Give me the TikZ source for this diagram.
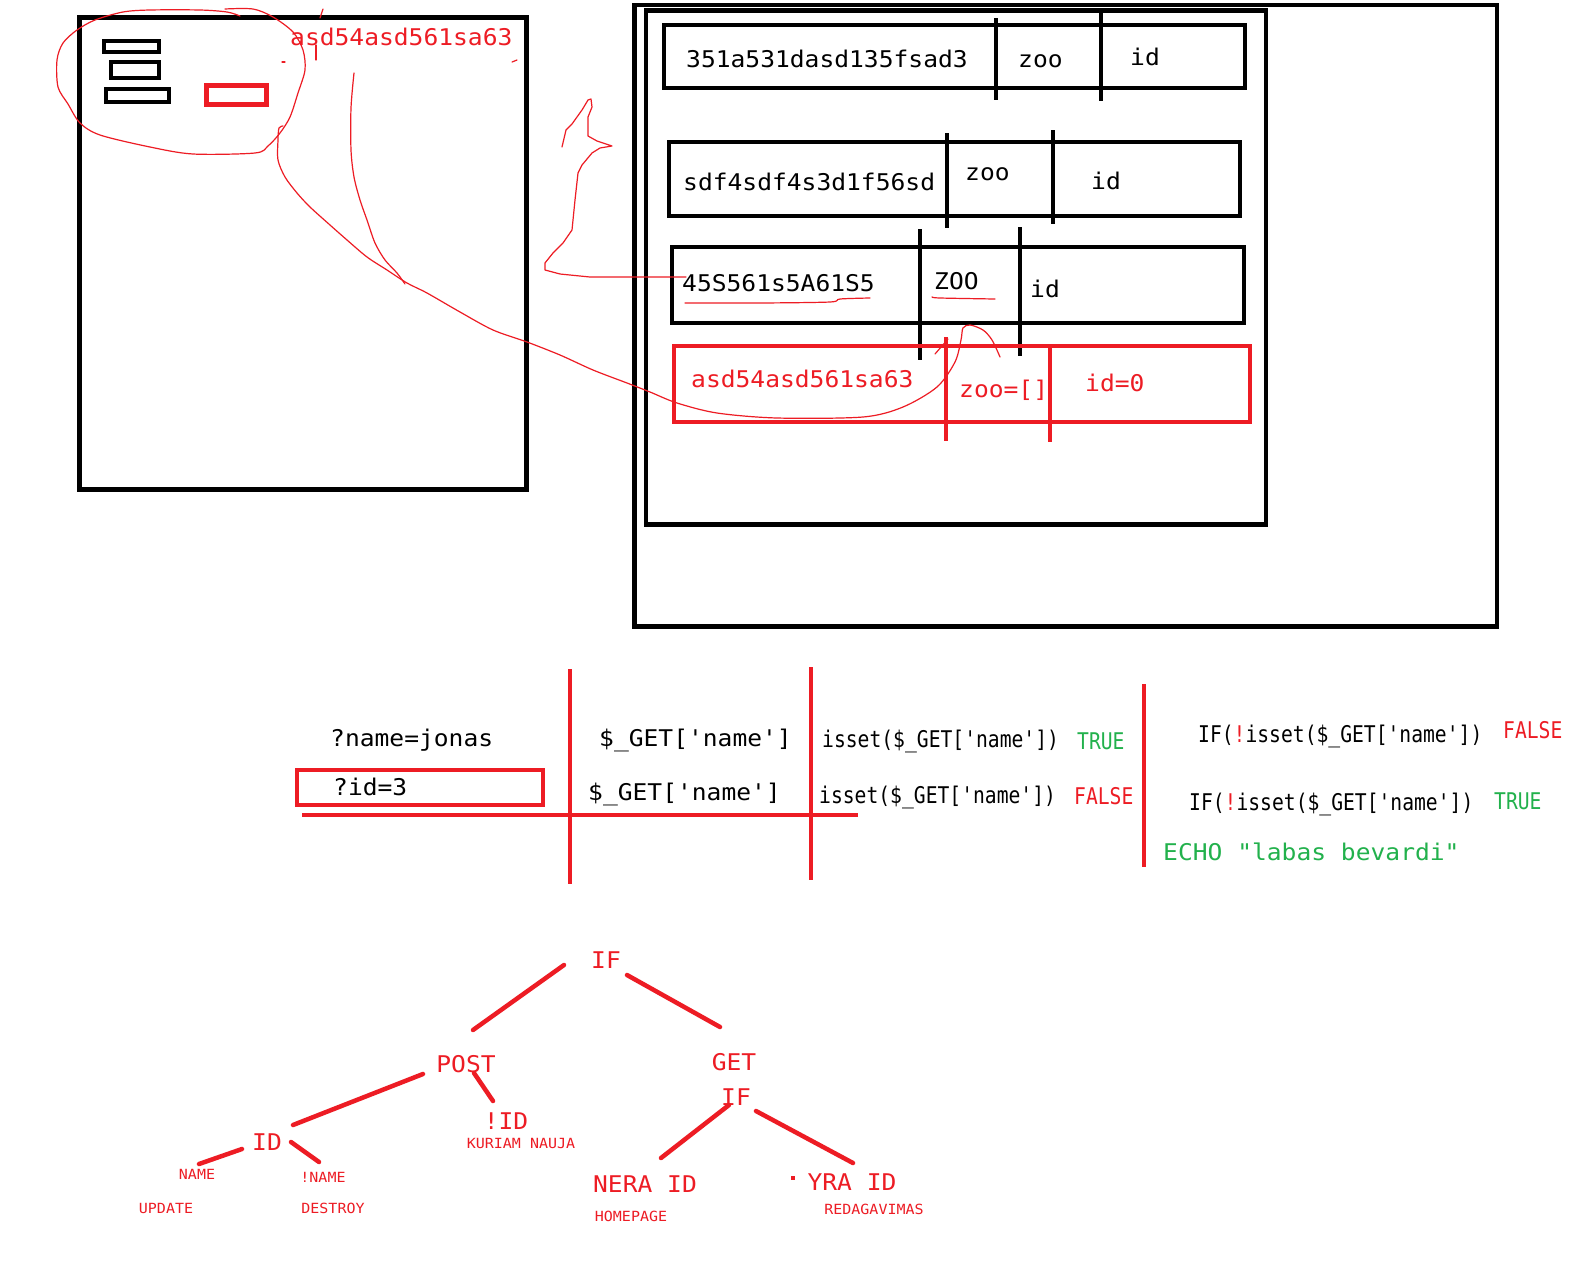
\documentclass[tikz,border=0pt]{standalone}
\usepackage{fontspec}
\usetikzlibrary{calc}
\newfontfamily\consfont[Ligatures=TeXOff,FakeStretch=1.07]{DejaVu Sans Mono}
\newfontfamily\slimfont[Ligatures=TeXOff,FakeStretch=0.855]{DejaVu Sans Mono}
\definecolor{paintred}{HTML}{ED1C24}
\definecolor{paintgreen}{HTML}{22B14C}

\begin{document}
\begin{tikzpicture}[x=1pt,y=-1pt,
    box/.style={draw=black,line width=4.5pt},
    redbox/.style={draw=paintred,line width=4.5pt},
    scribble/.style={draw=paintred,line width=1.2pt,line cap=round,line join=round},
    branch/.style={draw=paintred,line width=4.5pt,line cap=round},
    code/.style={inner sep=0pt,anchor=base west,font=\consfont\fontsize{23}{27}\selectfont},
    slim/.style={inner sep=0pt,anchor=base west,font=\slimfont\fontsize{23}{27}\selectfont},
    leaf/.style={inner sep=0pt,anchor=base,text=paintred,font=\consfont\fontsize{23}{27}\selectfont},
    tag/.style={inner sep=0pt,anchor=base,text=paintred,font=\consfont\fontsize{14}{17}\selectfont}]
    \fill[white] (0,0) rectangle (1574,1280);

    % page sketch on the left
    \draw[box] (79.5,17.5) rectangle (526.5,489.5);
    \draw[box] (104,41) rectangle (159,52);
    \draw[box] (111,62) rectangle (159,78);
    \draw[box] (106,89) rectangle (169,102);
    \draw[redbox,line width=5pt] (206.5,85.5) rectangle (266.5,104.5);
    \node[code,text=paintred] (pagekey) at (290,45) {asd54asd561sa63};

    % session table on the right
    \draw[box,line width=4.5pt] (634.5,5) -- (1497,5) -- (1497,626.5) -- (634.5,626.5) -- cycle;
    \draw[box] (646,10.5) rectangle (1266,524.5);

    \draw[box] (664,25) rectangle (1245,88);
    \draw[box] (996,18) -- (996,100);
    \draw[box] (1101,12) -- (1101,101);
    \node[code] (r1key) at (686,67) {351a531dasd135fsad3};
    \node[code] (r1zoo) at (1018,67) {zoo};
    \node[code] (r1id) at (1130,65) {id};

    \draw[box] (669,142) rectangle (1240,216);
    \draw[box] (947,133) -- (947,228);
    \draw[box] (1053,130) -- (1053,224);
    \node[code] (r2key) at (683,190) {sdf4sdf4s3d1f56sd};
    \node[code] (r2zoo) at (965,180) {zoo};
    \node[code] (r2id) at (1091,189) {id};

    \draw[box] (672,247) rectangle (1244,323);
    \draw[box] (920,229) -- (920,360);
    \draw[box] (1020,227) -- (1020,356);
    \node[code] (r3key) at (682,291) {45S561s5A61S5};
    \node[code] (r3zoo) at (934,289) {ZOO};
    \node[code] (r3id) at (1030,297) {id};

    \draw[redbox] (674,346) rectangle (1250,422);
    \draw[redbox] (946,337) -- (946,441);
    \draw[redbox] (1050,347) -- (1050,442);
    \node[code,text=paintred] (r4key) at (691,387) {asd54asd561sa63};
    \node[code,text=paintred] (r4zoo) at (959,397) {zoo=[]};
    \node[code,text=paintred] (r4id) at (1085,391) {id=0};

    % freehand marks
    \draw[scribble] plot[smooth] coordinates {(225,9) (253,9) (273,17) (293,32) (303,50) (305,70) (298,93) (290,117) (280,133) (268,146) (255,153) (193,154) (150,147) (100,135) (80,123) (68,104) (58,87) (57,60) (63,43) (77,30) (95,20) (123,12) (150,10) (200,10) (227,12) (240,16)};
    \draw[scribble] (323,9) -- (320,18);
    \draw[scribble] (316,45) -- (316,60);
    \draw[scribble] (282,62) -- (285,62);
    \draw[scribble] (512,62) -- (517,60);
    \draw[scribble] plot[smooth] coordinates {(354,73) (351,108) (351,150) (354,177) (360,200) (367,220) (375,243) (385,260) (397,273) (405,284)};
    \draw[scribble] plot[smooth] coordinates {(283,126) (279,128) (278,140) (278,160) (285,177) (297,193) (310,207) (330,225) (347,240) (367,257) (387,270) (407,283) (427,293) (460,312) (493,330) (527,342) (560,355) (593,370) (627,383) (650,392) (677,403) (717,413) (777,418) (863,417) (903,407) (937,387) (955,362) (961,340) (963,328) (970,325) (983,330) (992,340) (1000,357)};
    \draw[scribble] (935,354) -- (948,339);
    \draw[scribble] plot coordinates {(686,277) (590,277) (560,274) (545,270) (545,263) (553,253) (563,243) (572,230) (575,200) (578,173) (582,165) (592,153) (600,148) (612,146) (597,141) (588,136) (588,117) (592,107) (591,99) (588,100) (582,110) (572,124) (566,130) (562,147)};
    \draw[scribble] plot[smooth] coordinates {(685,303) (760,303) (830,302) (840,299) (870,298)};
    \draw[scribble] plot[smooth] coordinates {(932,297) (940,298) (995,299)};

    % query table
    \node[code] (jonas) at (330,746) {?name=jonas};
    \draw[redbox] (297,770) rectangle (543,805);
    \node[code] (idq) at (333,795) {?id=3};
    \draw[redbox] (302,815) -- (858,815);
    \draw[redbox] (570,669) -- (570,884);
    \draw[redbox] (811,667) -- (811,880);
    \draw[redbox] (1144,684) -- (1144,867);
    \node[code] (getA) at (599,746) {\$\_GET['name']};
    \node[code] (getB) at (588,800) {\$\_GET['name']};
    \node[slim] (issetA) at (822,747) {isset(\$\_GET['name'])};
    \node[slim,text=paintgreen] (trueA) at (1077,749) {TRUE};
    \node[slim] (issetB) at (819,803) {isset(\$\_GET['name'])};
    \node[slim,text=paintred] (falseB) at (1074,804) {FALSE};
    \node[slim] (ifA) at (1198,742) {IF(\textcolor{paintred}{!}isset(\$\_GET['name'])};
    \node[slim,text=paintred] (falseA) at (1503,738) {FALSE};
    \node[slim] (ifB) at (1189,810) {IF(\textcolor{paintred}{!}isset(\$\_GET['name'])};
    \node[slim,text=paintgreen] (trueB) at (1494,809) {TRUE};
    \node[code,text=paintgreen] (echo) at (1163,860) {ECHO "labas bevardi"};

    % request tree
    \node[leaf] (if1) at (606,968) {IF};
    \node[leaf] (post) at (466,1072) {POST};
    \node[leaf] (get) at (734,1070) {GET};
    \node[leaf] (if2) at (736,1105) {IF};
    \node[leaf] (notid) at (506,1129) {!ID};
    \node[tag] (kuriam) at (521,1148) {KURIAM NAUJA};
    \node[leaf] (idn) at (267,1150) {ID};
    \node[tag] (name) at (197,1179) {NAME};
    \node[tag] (notname) at (323,1182) {!NAME};
    \node[tag] (update) at (166,1213) {UPDATE};
    \node[tag] (destroy) at (333,1213) {DESTROY};
    \node[leaf] (nera) at (645,1192) {NERA ID};
    \node[tag] (homepage) at (631,1221) {HOMEPAGE};
    \node[leaf] (yra) at (852,1190) {YRA ID};
    \node[tag] (redag) at (874,1214) {REDAGAVIMAS};
    \fill[paintred] (791,1176) rectangle (795,1180);

    \draw[branch] ($(if1.base)+(-42,-3)$) -- ($(post.base)+(7,-42)$);
    \draw[branch] ($(if1.base)+(21,7)$) -- ($(get.base)+(-14,-43)$);
    \draw[branch] ($(post.base)+(-43,2)$) -- ($(idn.base)+(26,-25)$);
    \draw[branch] ($(post.base)+(8,1)$) -- ($(notid.base)+(-13,-28)$);
    \draw[branch] ($(idn.base)+(-25,-1)$) -- ($(name.base)+(2,-15)$);
    \draw[branch] ($(idn.base)+(24,-8)$) -- ($(notname.base)+(-4,-20)$);
    \draw[branch] ($(if2.base)+(-7,0)$) -- ($(nera.base)+(16,-34)$);
    \draw[branch] ($(if2.base)+(20,6)$) -- ($(yra.base)+(1,-27)$);
\end{tikzpicture}
\end{document}
